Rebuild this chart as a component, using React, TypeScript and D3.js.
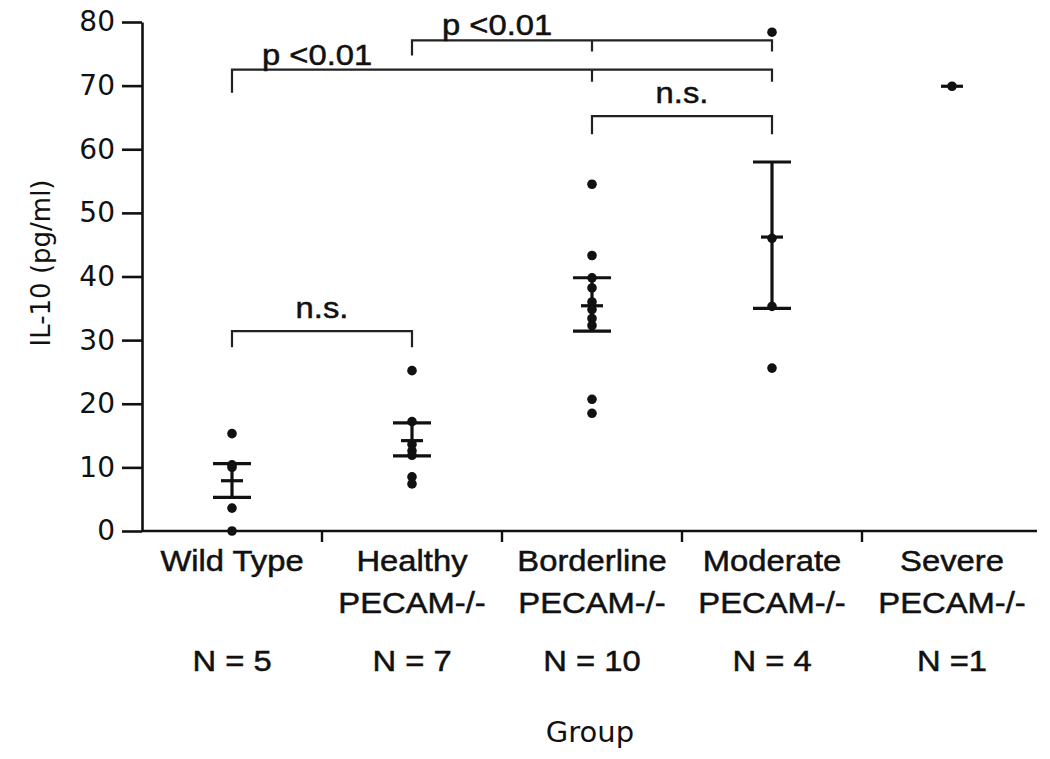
import React, { useEffect, useRef } from "react";
import * as d3 from "d3";

const groups = ["Wild Type", "Healthy", "Borderline", "Moderate", "Severe"];
const subLabels = ["", "PECAM-/-", "PECAM-/-", "PECAM-/-", "PECAM-/-"];
const counts = ["N = 5", "N = 7", "N = 10", "N = 4", "N =1"];

// individual animals
const wildType = [15.3, 10.4, 10.0, 3.6, 0];
const healthy = [25.2, 17.2, 13.6, 12.6, 11.9, 8.5, 7.4];
const borderline = [54.5, 43.3, 39.8, 38.2, 36.0, 34.8, 33.4, 32.3, 20.7, 18.5];
const moderate = [78.4, 46.0, 35.3, 25.6];
const severe = [69.9];
const groupValues = [wildType, healthy, borderline, moderate, severe];

// mean and SEM bars
const means = [7.9, 14.2, 35.4, 46.2, 69.9];
const lowerBars = [5.3, 11.8, 31.4, 35.0, 69.9];
const upperBars = [10.6, 17.0, 39.8, 58.0, 69.9];

const yTicks = [0, 10, 20, 30, 40, 50, 60, 70, 80];

const comparisons = [
  { from: "Wild Type", to: "Healthy", via: "", label: "n.s.", level: 31.4 },
  { from: "Borderline", to: "Moderate", via: "", label: "n.s.", level: 65.2 },
  { from: "Wild Type", to: "Moderate", via: "Borderline", label: "p <0.01", level: 72.5 },
  { from: "Healthy", to: "Moderate", via: "Borderline", label: "p <0.01", level: 77.1 },
];

const W = 1050;
const H = 759;
const sans = "'Liberation Sans', Arial, sans-serif";
const deja = "'DejaVu Sans', Verdana, sans-serif";

export default function App() {
  const ref = useRef<SVGSVGElement | null>(null);

  useEffect(() => {
    const svg = d3.select(ref.current);
    svg.selectAll("*").remove();

    const x = d3.scaleBand<string>().domain(groups).range([142, 1042]).padding(0);
    const y = d3.scaleLinear().domain([0, 80]).range([531, 22]);
    const cx = (g: string) => (x(g) as number) + x.bandwidth() / 2;
    const ink = "#111";

    // y axis
    const yAxis = svg
      .append("g")
      .attr("transform", "translate(142,0)")
      .call(d3.axisLeft(y).tickValues(yTicks).tickSize(20).tickSizeOuter(0).tickPadding(7));
    yAxis.select(".domain").attr("stroke", ink).attr("stroke-width", 2.6);
    yAxis.selectAll(".tick line").attr("stroke", ink).attr("stroke-width", 2.6);
    yAxis
      .selectAll(".tick text")
      .attr("fill", ink)
      .style("font-family", deja)
      .style("font-size", "28px");

    // x axis: baseline and ticks between groups
    svg
      .append("line")
      .attr("x1", 142)
      .attr("x2", 1037)
      .attr("y1", y(0))
      .attr("y2", y(0))
      .attr("stroke", ink)
      .attr("stroke-width", 2.6);
    svg
      .selectAll(".xtick")
      .data(groups.slice(1))
      .join("line")
      .attr("x1", (d) => x(d) as number)
      .attr("x2", (d) => x(d) as number)
      .attr("y1", y(0))
      .attr("y2", y(0) + 11)
      .attr("stroke", ink)
      .attr("stroke-width", 2.4);

    const stretched = (
      txt: string,
      px: number,
      py: number,
      anchor: string,
      size = 29
    ) => {
      svg
        .append("g")
        .attr("transform", `translate(${px},${py}) scale(1.13,1)`)
        .append("text")
        .attr("text-anchor", anchor)
        .attr("fill", ink)
        .attr("stroke", ink)
        .attr("stroke-width", 0.5)
        .style("font-family", sans)
        .style("font-size", `${size}px`)
        .text(txt);
    };

    groups.forEach((g, i) => {
      stretched(g, cx(g), 571, "middle");
      if (subLabels[i]) stretched(subLabels[i], cx(g), 613, "middle");
      stretched(counts[i], cx(g), 671, "middle");
    });

    // axis titles
    svg
      .append("text")
      .attr("x", 590)
      .attr("y", 742)
      .attr("text-anchor", "middle")
      .attr("fill", ink)
      .style("font-family", deja)
      .style("font-size", "29px")
      .text("Group");
    svg
      .append("text")
      .attr("transform", "translate(50,263) rotate(-90)")
      .attr("text-anchor", "middle")
      .attr("fill", ink)
      .style("font-family", deja)
      .style("font-size", "26px")
      .text("IL-10 (pg/ml)");

    // SEM bars
    const bars = svg.append("g").attr("stroke", ink).attr("stroke-width", 3.2);
    groups.forEach((g, i) => {
      const c = cx(g);
      if (upperBars[i] !== lowerBars[i]) {
        bars
          .append("line")
          .attr("x1", c)
          .attr("x2", c)
          .attr("y1", y(upperBars[i]))
          .attr("y2", y(lowerBars[i]));
        [upperBars[i], lowerBars[i]].forEach((v) => {
          bars
            .append("line")
            .attr("x1", c - 19)
            .attr("x2", c + 19)
            .attr("y1", y(v))
            .attr("y2", y(v));
        });
      }
      bars
        .append("line")
        .attr("x1", c - 11)
        .attr("x2", c + 11)
        .attr("y1", y(means[i]))
        .attr("y2", y(means[i]));
    });

    // dots
    groups.forEach((g, i) => {
      svg
        .append("g")
        .selectAll("circle")
        .data(groupValues[i])
        .join("circle")
        .attr("cx", cx(g))
        .attr("cy", (d) => y(d))
        .attr("r", 4.8)
        .attr("fill", ink);
    });

    // significance brackets
    const legs = [
      [16, 0, 16],
      [18, 0, 18],
      [23, 12, 12],
      [15, 11, 11],
    ];
    const br = svg.append("g").attr("stroke", "#222").attr("stroke-width", 2.2).attr("fill", "none");
    comparisons.forEach((c, i) => {
      const x1 = cx(c.from);
      const x2 = cx(c.to);
      const ly = y(c.level);
      br.append("path").attr("d", `M${x1},${ly + legs[i][0]}V${ly}H${x2}V${ly + legs[i][2]}`);
      if (c.via) {
        const xm = cx(c.via);
        br.append("line").attr("x1", xm).attr("x2", xm).attr("y1", ly).attr("y2", ly + legs[i][1]);
      }
      if (c.label.startsWith("p")) stretched(c.label, x1 + 30, ly - 5, "start");
      else stretched(c.label, (x1 + x2) / 2, ly - 13, "middle");
    });
  }, []);

  return (
    <svg
      ref={ref}
      width={W}
      height={H}
      style={{ position: "absolute", left: 0, top: 0, background: "#fff" }}
    ></svg>
  );
}
